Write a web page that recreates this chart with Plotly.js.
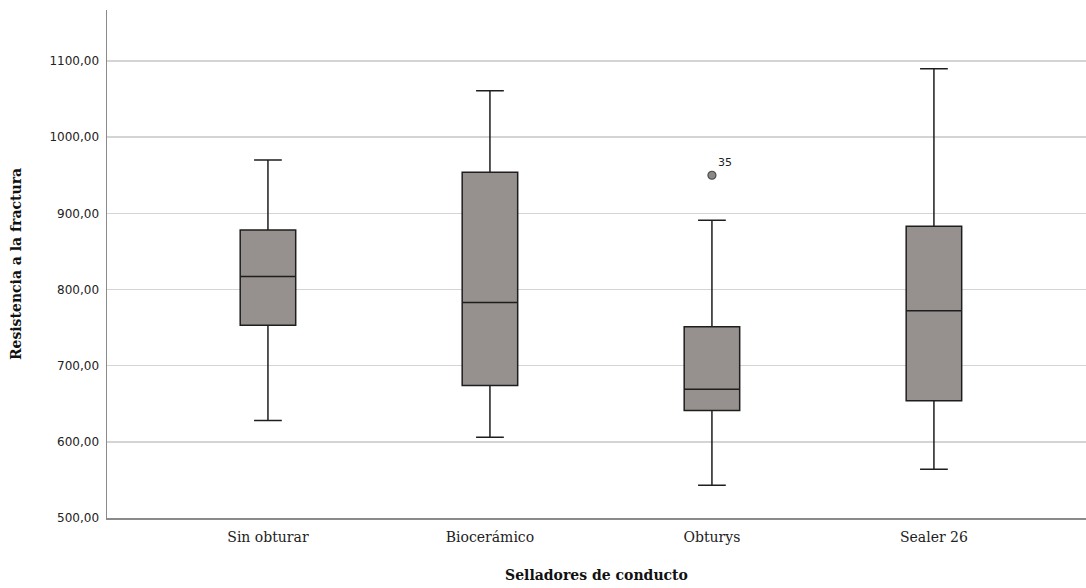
<!DOCTYPE html>
<html>
<head>
<meta charset="utf-8">
<script src="https://cdn.plot.ly/plotly-3.0.1.min.js"></script>
<style>html,body{margin:0;padding:0;background:#fff;}#chart{width:1086px;height:588px;}</style>
</head>
<body>
<div id="chart"></div>
<script>
// Data
const categories = ["Sin obturar", "Biocerámico", "Obturys", "Sealer 26"];
const lowerWhisker = [628, 606, 543, 564];
const q1Values = [753, 674, 641, 654];
const medianValues = [817, 783, 669, 772];
const q3Values = [878, 954, 751, 883];
const upperWhisker = [970, 1061, 891, 1090];
const outlierCategories = ["Obturys"];
const outlierValues = [950];
const outlierLabels = ["35"];
const yTickValues = [500, 600, 700, 800, 900, 1000, 1100];

const boxTrace = {
  type: "box",
  x: categories,
  q1: q1Values,
  median: medianValues,
  q3: q3Values,
  lowerfence: lowerWhisker,
  upperfence: upperWhisker,
  boxpoints: false,
  width: 0.25,
  whiskerwidth: 0.5,
  fillcolor: "rgb(150,145,142)",
  line: {color: "#1e1e1e", width: 1.5},
  hoverinfo: "skip",
  showlegend: false
};

const outlierTrace = {
  type: "scatter",
  mode: "markers",
  x: outlierCategories,
  y: outlierValues,
  marker: {size: 8, color: "rgb(140,136,134)", line: {color: "#4a4a4a", width: 1.2}},
  hoverinfo: "skip",
  showlegend: false
};

const annotations = outlierCategories.map((c, i) => ({
  x: c, y: outlierValues[i], xref: "x", yref: "y",
  text: outlierLabels[i], showarrow: false,
  xanchor: "left", yanchor: "middle", xshift: 4, yshift: 13,
  font: {family: "DejaVu Sans, sans-serif", size: 11, color: "#222"}
}));

const layout = {
  width: 1086, height: 588,
  margin: {l: 107, r: 0, t: 10, b: 70},
  paper_bgcolor: "#fff", plot_bgcolor: "#fff",
  separators: ",.",
  showlegend: false,
  hovermode: false,
  xaxis: {
    type: "category",
    categoryorder: "array", categoryarray: categories,
    range: [-0.725, 3.685],
    showgrid: false, zeroline: false,
    showline: true, linecolor: "#8a8a8a", linewidth: 1.5,
    ticks: "",
    ticklabelstandoff: 6,
    tickfont: {family: "DejaVu Serif, serif", size: 14, color: "#222"},
    title: {text: "Selladores de conducto", standoff: 26,
      font: {family: "DejaVu Serif, serif", size: 14, color: "#111", weight: "bold"}}
  },
  yaxis: {
    range: [500, 1167],
    tickvals: yTickValues,
    tickformat: ".2f",
    showgrid: true, gridcolor: "#d4d4d4", gridwidth: 1.5,
    zeroline: false,
    showline: true, linecolor: "#8a8a8a", linewidth: 1.5,
    ticks: "", ticklen: 0,
    ticklabelstandoff: 4,
    tickfont: {family: "DejaVu Sans, sans-serif", size: 12, color: "#222"},
    title: {text: "Resistencia a la fractura", standoff: 24,
      font: {family: "DejaVu Serif, serif", size: 14, color: "#111", weight: "bold"}}
  },
  annotations: annotations
};

Plotly.newPlot("chart", [boxTrace, outlierTrace], layout, {staticPlot: true, displayModeBar: false});
</script>
</body>
</html>
